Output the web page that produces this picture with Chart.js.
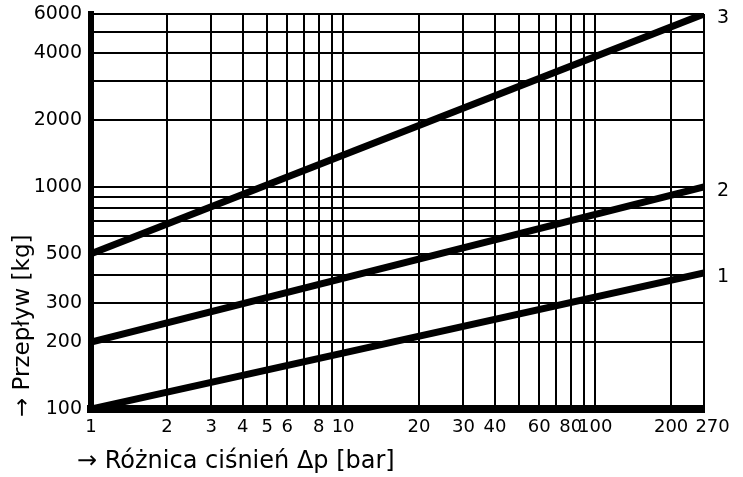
<!DOCTYPE html>
<html><head><meta charset="utf-8">
<script src="https://cdn.jsdelivr.net/npm/chart.js@4"></script>
<style>html,body{margin:0;padding:0;background:#fff;} canvas{display:block;}</style>
</head><body>
<canvas id="c" width="743" height="477"></canvas>
<script>
// ---- data ----
const seriesNames = ['1', '2', '3'];
const pressureDiff = [1, 270];          // Δp [bar] at the ends of each line
const flow1 = [100, 410];               // Przepływ [kg], curve 1
const flow2 = [200, 1000];              // curve 2
const flow3 = [500, 6000];              // curve 3
const xGridValues = [1,2,3,4,5,6,7,8,9,10,20,30,40,50,60,70,80,90,100,200,270];
const yGridValues = [100,200,300,400,500,600,700,800,900,1000,2000,3000,4000,5000,6000];
const xTickLabels = [1,2,3,4,5,6,8,10,20,30,40,60,80,100,200,270];
const yTickLabels = [100,200,300,500,1000,2000,4000,6000];
const xTitle = '→ Różnica ciśnień Δp [bar]';
const yTitle = '→ Przepływ [kg]';

const FONT = '"DejaVu Sans", "Liberation Sans", Arial, sans-serif';
const toPoints = ys => pressureDiff.map((x, i) => ({x, y: ys[i]}));
const flows = [flow1, flow2, flow3];

const textPlugin = {
  id: 'texts',
  afterDatasetsDraw(chart) {
    const ctx = chart.ctx, a = chart.chartArea;
    ctx.save();
    ctx.fillStyle = '#000';
    ctx.textBaseline = 'alphabetic';
    ctx.textAlign = 'left';
    ctx.font = '19px ' + FONT;
    chart.data.datasets.forEach((ds, i) => {
      const meta = chart.getDatasetMeta(i);
      const p = meta.data[meta.data.length - 1];
      ctx.fillText(ds.label, p.x + 13, p.y + 9);
    });
    ctx.font = '24px ' + FONT;
    ctx.fillText(xTitle, a.left - 14, a.bottom + 59);
    ctx.translate(29, a.bottom + 8);
    ctx.rotate(-Math.PI / 2);
    ctx.font = '23px ' + FONT;
    ctx.fillText(yTitle, 0, 0);
    ctx.restore();
  }
};

new Chart(document.getElementById('c'), {
  type: 'line',
  data: {
    datasets: flows.map((f, i) => ({
      label: seriesNames[i],
      data: toPoints(f),
      borderColor: '#000',
      borderWidth: 7,
      pointRadius: 0,
      tension: 0,
      fill: false
    }))
  },
  options: {
    responsive: false,
    animation: false,
    devicePixelRatio: 1,
    layout: { padding: { top: 14, right: 39, left: 0, bottom: 0 } },
    plugins: { legend: { display: false }, tooltip: { enabled: false } },
    scales: {
      x: {
        type: 'logarithmic', position: 'bottom', min: 1, max: 270,
        afterBuildTicks: s => { s.ticks = xGridValues.map(v => ({ value: v })); },
        afterFit: s => { s.height = 68; s.paddingLeft = 0; s.paddingRight = 0; },
        ticks: {
          autoSkip: false, maxRotation: 0, minRotation: 0, padding: 8, color: '#000',
          font: { family: FONT, size: 18 },
          callback: v => xTickLabels.includes(v) ? (v === 270 ? '   ' + v : String(v)) : ''
        },
        grid: { color: '#000', lineWidth: 2, drawTicks: false },
        border: { display: true, color: '#000', width: 8 }
      },
      y: {
        type: 'logarithmic', position: 'left', min: 100, max: 6000,
        afterBuildTicks: s => { s.ticks = yGridValues.map(v => ({ value: v })); },
        afterFit: s => { s.width = 91; s.paddingTop = 0; s.paddingBottom = 0; },
        ticks: {
          autoSkip: false, padding: 9, color: '#000',
          font: { family: FONT, size: 19 },
          callback: v => yTickLabels.includes(v) ? String(v) : ''
        },
        grid: { color: '#000', lineWidth: 2, drawTicks: false },
        border: { display: true, color: '#000', width: 6 }
      }
    }
  },
  plugins: [textPlugin]
});
</script>
</body></html>
